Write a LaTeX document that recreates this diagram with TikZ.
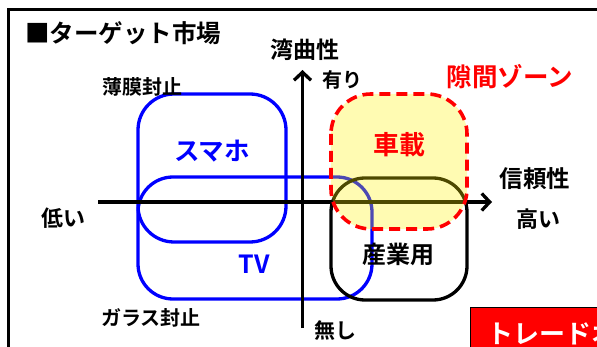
\documentclass[tikz,border=0pt]{standalone}
\usepackage{fontspec}
\setmainfont{Noto Sans CJK JP}[BoldFont={* Bold}]
\usetikzlibrary{arrows.meta}
\newcommand\fsz[1]{\fontsize{#1}{#1}\selectfont\bfseries}
\tikzset{
  lbl/.style={inner sep=0pt, font=\fsz{#1}},
  bluebox/.style={draw=blue, line width=3.3pt, rounded corners=36pt},
  blackbox/.style={draw=black, line width=3.3pt, rounded corners=34pt},
  gapzone/.style={draw=red, line width=3.6pt, dash pattern=on 11pt off 6pt, rounded corners=40pt},
  axisline/.style={draw=black, line width=3.3pt, -{Straight Barb[length=8pt,width=17pt]}},
}
\begin{document}
\begin{tikzpicture}[x=1pt,y=-1pt]
\useasboundingbox (0,0) rectangle (597,347);
\clip (0,0) rectangle (597,347);
\fill[white] (0,0) rectangle (597,347);
% frame
\draw[line width=2.8pt] (8.5,360) -- (8.5,9.5) -- (620,9.5);
% boxes
\draw[bluebox] (138,94) rectangle (286,242);
\draw[bluebox, rounded corners=35pt] (138,177) rectangle (372,299);
\draw[blackbox] (331,178) rectangle (467,300);
% axes
\coordinate (hs) at (98,202);
\coordinate (he) at (492,202);
\coordinate (vs) at (302.5,328);
\coordinate (ve) at (302.5,70);
\draw[axisline] (hs) -- (he);
\draw[axisline] (vs) -- (ve);
% gap zone
\fill[yellow, opacity=0.3, rounded corners=40pt] (331,94) rectangle (467,229);
\draw[gapzone] (331,94) rectangle (467,229);
% labels
\node[lbl=24.5] (title) at (123,33.5) {■ターゲット市場};
\node[lbl=23] (flex) at (305,50) {湾曲性};
\node[lbl=20] (yes) at (342,80) {有り};
\node[lbl=25.5, text=red] (gap) at (510,77) {隙間ゾーン};
\node[lbl=20] (thin) at (142,87) {薄膜封止};
\node[lbl=25.5, text=blue] (phone) at (212,151) {スマホ};
\node[lbl=26, text=red] (car) at (399,145) {車載};
\node[lbl=23.5] (rel) at (535,179) {信頼性};
\node[lbl=22] (high) at (538,219) {高い};
\node[lbl=22] (low) at (63,218) {低い};
\node[lbl=25, text=blue] (tv) at (254,264) {TV};
\node[lbl=24] (ind) at (398,254) {産業用};
\node[lbl=20] (glass) at (151,318) {ガラス封止};
\node[lbl=21] (none) at (335,331) {無し};
% trade-off box
\draw[fill=red, draw=black, line width=0.8pt] (470,307) rectangle (620,380);
\node[lbl=26, text=white, anchor=base west] (trade) at (487,344) {トレードオフ};
\end{tikzpicture}
\end{document}
